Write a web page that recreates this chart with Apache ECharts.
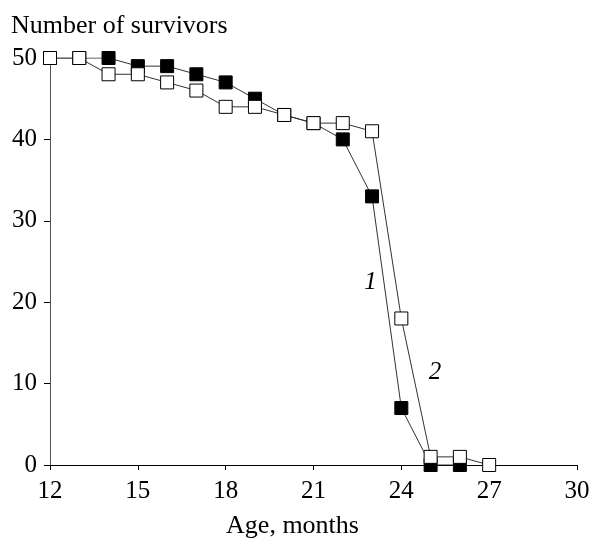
<!DOCTYPE html>
<html><head><meta charset="utf-8">
<script src="https://cdn.jsdelivr.net/npm/echarts@6/dist/echarts.min.js"></script>
<style>html,body{margin:0;padding:0;background:#fff}#c{width:591px;height:543px}</style>
</head><body><div id="c"></div>
<script>
const ages1 = [12,13,14,15,16,17,18,19,20,21,22,23,24,25,26];
const survivors1 = [50,50,50,49,49,48,47,45,43,42,40,33,7,0,0];
const ages2 = [12,13,14,15,16,17,18,19,20,21,22,23,24,25,26,27];
const survivors2 = [50,50,48,48,47,46,44,44,43,42,42,41,18,1,1,0];
const xTicks = [12,15,18,21,24,27,30];
const yTicks = [0,10,20,30,40,50];
const curveLabels = [{name:'1', coord:[22.95,22.4]},{name:'2', coord:[25.15,11.4]}];

const font = 'Liberation Serif, Times New Roman, serif';
const chart = echarts.init(document.getElementById('c'));
chart.setOption({
  animation:false,
  title:{text:'Number of survivors', left:6, top:8, textStyle:{fontFamily:font, fontSize:26, fontWeight:'normal', color:'#000'}},
  grid:{left:50, right:14, top:58, bottom:78, containLabel:false, outerBoundsMode:'none'},
  xAxis:{type:'value', min:12, max:30, interval:3,
    name:'Age, months', nameLocation:'middle', nameGap:48,
    nameTextStyle:{fontFamily:font, fontSize:26, color:'#000', padding:[0,42,0,0]},
    axisLine:{show:true, lineStyle:{color:'#000', width:1.2}},
    axisTick:{show:true, length:5, lineStyle:{color:'#000'}},
    axisLabel:{fontFamily:font, fontSize:25, color:'#000', margin:14,
      formatter:v=>xTicks.includes(v)?String(v):''},
    splitLine:{show:false}},
  yAxis:{type:'value', min:0, max:50, interval:10,
    axisLine:{show:true, lineStyle:{color:'#555', width:1}},
    axisTick:{show:true, length:6, lineStyle:{color:'#000'}},
    axisLabel:{fontFamily:font, fontSize:25, color:'#000', margin:13,
      formatter:v=>yTicks.includes(v)?String(v):''},
    splitLine:{show:false}},
  series:[
    {type:'line', data:ages1.map((a,i)=>[a,survivors1[i]]), symbol:'rect', symbolSize:13,
     itemStyle:{color:'#000', borderColor:'#000', borderWidth:1},
     lineStyle:{color:'#333', width:1}, z:2,
     markPoint:{symbol:'rect', symbolSize:0, data:curveLabels.map(c=>({name:c.name, coord:c.coord})),
       label:{show:true, position:'inside', formatter:p=>p.name, fontFamily:font, fontStyle:'italic', fontSize:25, color:'#000'}}},
    {type:'line', data:ages2.map((a,i)=>[a,survivors2[i]]), symbol:'rect', symbolSize:13,
     itemStyle:{color:'#fff', borderColor:'#000', borderWidth:1},
     lineStyle:{color:'#333', width:1}, z:3}
  ]
});
</script></body></html>
